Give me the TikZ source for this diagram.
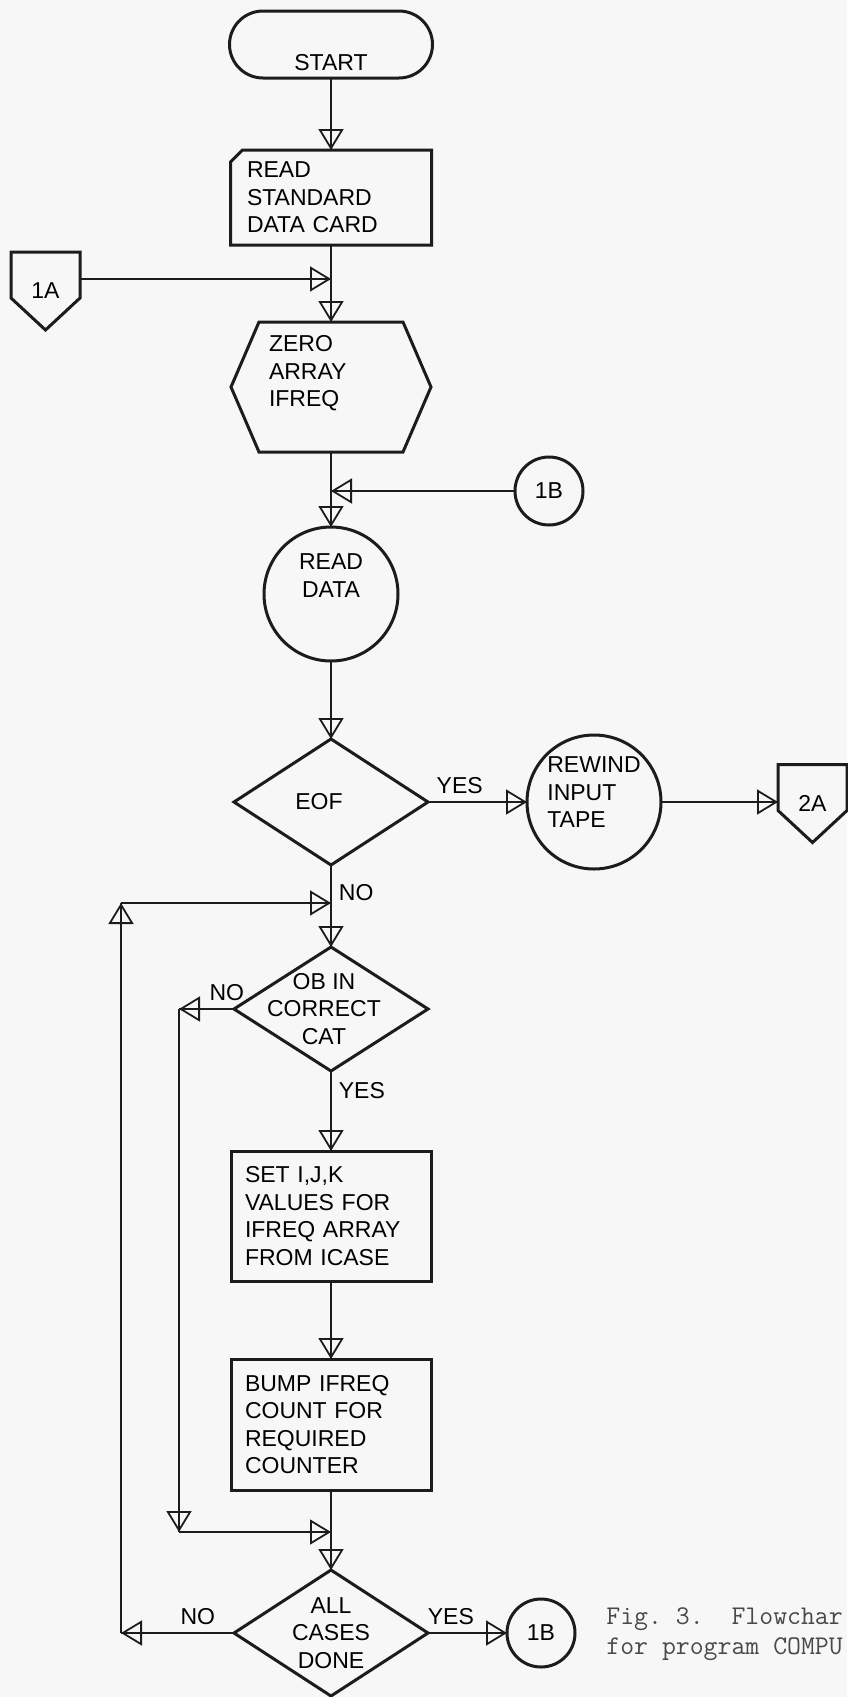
\documentclass[tikz,border=0pt]{standalone}
\usepackage{fontspec}
\setmainfont{Liberation Sans}
\usepackage{tikz}
\usetikzlibrary{arrows.meta,shapes.geometric,shapes.misc,decorations.markings}
\definecolor{ink}{HTML}{1C1C1C}
\definecolor{paper}{HTML}{F7F7F7}
\newcommand{\flowfont}{\fontsize{11.5pt}{13.75pt}\selectfont}
\tikzset{
  outline/.style={draw=ink,line width=1.5pt,inner sep=0pt,outer sep=0pt},
  term/.style={outline,rounded rectangle,minimum width=101.5pt,minimum height=33.5pt},
  proc/.style={outline,rectangle,minimum width=100pt,minimum height=65pt,text width=86pt,inner xsep=7pt,align=left,font=\flowfont},
  cardbox/.style={proc,draw=none,minimum width=100.5pt,minimum height=47.5pt,text width=84pt,inner xsep=8.25pt},
  prep/.style={rectangle,inner sep=0pt,outer sep=0pt,minimum width=100pt,minimum height=65pt},
  decide/.style={outline,diamond,minimum width=97pt,minimum height=63pt},
  conn/.style={outline,circle,font=\flowfont},
  offpg/.style={rectangle,inner sep=0pt,outer sep=0pt,minimum width=34.5pt,minimum height=39pt,font=\flowfont},
  txt/.style={font=\flowfont,inner sep=0pt},
  lbl/.style={font=\flowfont,inner sep=3.5pt},
  capt/.style={font=\ttfamily\fontsize{13.5pt}{15pt}\selectfont\frenchspacing,text=ink!80,align=left,inner sep=0pt},
  arr/.style={draw=ink,line width=0.9pt,postaction={decorate},
    decoration={markings,mark=at position 1 with {\arrow{Triangle[open,length=10.5pt,width=12.5pt]}}}}
}
\begin{document}
\begin{tikzpicture}[x=0.5pt,y=-0.5pt]
\path[use as bounding box,fill=paper] (0,0) rectangle (847,1697);
\node[term,label={[txt,yshift=-9.25pt]center:START}] (start) at (331,44.5) {};
\node[cardbox] (card) at (331,197.5) {READ\\STANDARD\\DATA CARD};
\draw[outline] ([yshift=-6pt]card.north west) -- ([xshift=6pt]card.north west) -- (card.north east) -- (card.south east) -- (card.south west) -- cycle;
\node[prep,label={[txt,text width=70pt,align=left,xshift=4pt,yshift=6.75pt]center:{ZERO\\ARRAY\\IFREQ}}] (zero) at (331,387) {};
\draw[outline] ([xshift=14pt]zero.north west) -- ([xshift=-14pt]zero.north east) -- (zero.east) -- ([xshift=-14pt]zero.south east) -- ([xshift=14pt]zero.south west) -- (zero.west) -- cycle;
\node[conn,minimum size=67pt,label={[txt,align=center,yshift=9.25pt]center:{READ\\DATA}}] (read) at (331,594) {};
\node[decide,label={[txt,xshift=-6pt]center:EOF}] (eof) at (331,802) {};
\node[decide,minimum height=62pt,label={[txt,align=center,xshift=-3.5pt]center:{OB IN\\CORRECT\\CAT}}] (cat) at (331,1009) {};
\node[proc] (set) at (331,1216) {SET I,J,K\\VALUES FOR\\IFREQ ARRAY\\FROM ICASE};
\node[proc,minimum height=65.5pt] (bump) at (331,1424.5) {BUMP IFREQ\\COUNT FOR\\REQUIRED\\COUNTER};
\node[decide,label={[txt,align=center]center:{ALL\\CASES\\DONE}}] (done) at (331,1633) {};

\node[offpg] (ia) at (45.5,291) {1A};
\draw[outline] (ia.north west) -- (ia.north east) -- ([yshift=16pt]ia.south east) -- (ia.south) -- ([yshift=16pt]ia.south west) -- cycle;
\node[conn,minimum size=34pt] (ib) at (549,491) {1B};
\node[conn,minimum size=67pt,label={[txt,align=left,yshift=4.75pt]center:{REWIND\\INPUT\\TAPE}}] (rewind) at (594,802) {};
\node[offpg] (iia) at (812.5,803.5) {2A};
\draw[outline] (iia.north west) -- (iia.north east) -- ([yshift=16pt]iia.south east) -- (iia.south) -- ([yshift=16pt]iia.south west) -- cycle;
\node[conn,minimum size=34pt] (ibb) at (541,1633) {1B};
\node[capt,anchor=west] (caption) at (606,1634) {Fig.~3.~~Flowchar\\for program COMPU};

\draw[arr] (start.south) -- (card.north);
\coordinate (iaout) at ([yshift=6pt]ia.east);
\draw[arr] (iaout) -- (iaout -| card.south);
\draw[arr] (card.south) -- (zero.north);
\draw[arr] (ib.west) -- (ib.west -| zero.south);
\draw[arr] (zero.south) -- (read.north);
\draw[arr] (read.south) -- (eof.north);
\draw[arr] (eof.east) -- node[lbl,above,pos=0.32]{YES} (rewind.west);
\draw[arr] (rewind.east) -- (rewind.east -| iia.west);
\draw[arr] (eof.south) -- node[lbl,right,pos=0.34]{NO} (cat.north);
\draw[arr] (cat.south) -- node[lbl,right,pos=0.24]{YES} (set.north);
\draw[arr] (set.south) -- (bump.north);
\draw[arr] (bump.south) -- (done.north);
\coordinate (nocorner) at (179,1009);
\coordinate (nodown) at (179,1532);
\draw[arr] (cat.west) -- node[lbl,above,pos=0.13]{NO} (nocorner);
\draw[arr] (nocorner) -- (nodown);
\draw[arr] (nodown) -- (nodown -| bump.south);
\coordinate (loopbot) at (121,1633);
\coordinate (looptop) at (121,903);
\draw[arr] (done.west) -- node[lbl,above,pos=0.32]{NO} (loopbot);
\draw[arr] (loopbot) -- (looptop);
\draw[arr] (looptop) -- (looptop -| eof.south);
\draw[arr] (done.east) -- node[lbl,above,pos=0.29]{YES} (ibb.west);
\end{tikzpicture}
\end{document}
